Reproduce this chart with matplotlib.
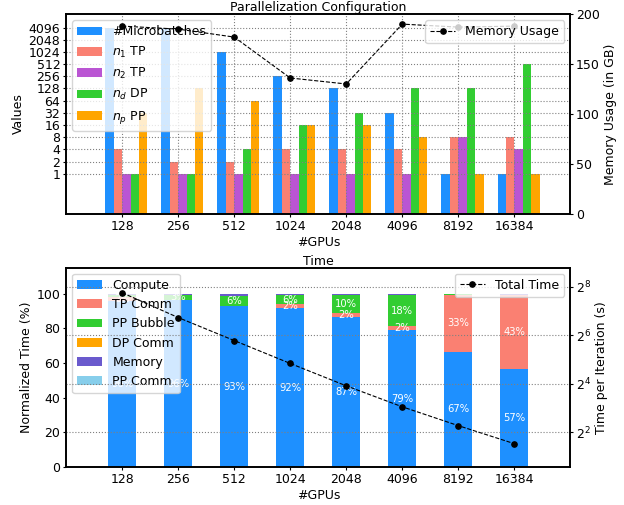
import numpy as np
import matplotlib
matplotlib.use('Agg')
import matplotlib.pyplot as plt

# GPU counts on the x axis
gpus = ['128', '256', '512', '1024', '2048', '4096', '8192', '16384']

# Parallelization configuration per GPU count
microbatches = [4096, 4096, 1024, 256, 128, 32, 1, 1]
n1_tp = [4, 2, 2, 4, 4, 4, 8, 8]
n2_tp = [1, 1, 1, 1, 1, 1, 8, 4]
nd_dp = [1, 1, 4, 16, 32, 128, 128, 512]
np_pp = [32, 128, 64, 16, 16, 8, 1, 1]
memory_gb = [188, 185, 177, 136, 130, 190, 187, 188]

# Time breakdown (percent of iteration time)
compute = [95.8, 96.2, 92.6, 91.6, 86.6, 78.9, 66.6, 56.6]
tp_comm = [2.4, 0.3, 0.0, 2.2, 2.4, 2.2, 32.6, 42.8]
pp_bubble = [0.9, 2.7, 6.0, 5.6, 10.2, 18.1, 0.3, 0.0]
dp_comm = [0.0, 0.0, 0.0, 0.0, 0.0, 0.0, 0.0, 0.0]
memory_pct = [0.6, 0.6, 1.2, 0.4, 0.6, 0.6, 0.3, 0.4]
pp_comm = [0.3, 0.2, 0.2, 0.2, 0.2, 0.2, 0.2, 0.2]
total_time = [215, 106, 55, 28.6, 15.1, 8.3, 4.85, 2.9]

plt.rcParams.update({
    'font.size': 9,
    'axes.titlesize': 9,
    'axes.linewidth': 1.2,
    'axes.labelpad': 2.5,
    'axes.titlepad': 2.0,
    'xtick.major.size': 2.2,
    'ytick.major.size': 2.2,
    'xtick.major.pad': 2.0,
    'ytick.major.pad': 2.0,
})

x = np.arange(1, len(gpus) + 1)

fig, (ax1, ax3) = plt.subplots(2, 1, figsize=(6.24, 5.05), dpi=100)
fig.subplots_adjust(left=0.106, right=0.914, top=0.972, bottom=0.075, hspace=0.27)

# --- Parallelization configuration ---
config = [
    (microbatches, '#Microbatches', '#1E90FF'),
    (n1_tp, '$n_1$ TP', '#FA8072'),
    (n2_tp, '$n_2$ TP', '#BA55D3'),
    (nd_dp, '$n_d$ DP', '#32CD32'),
    (np_pp, '$n_p$ PP', '#FFA500'),
]
w = 0.15
for i, (vals, label, color) in enumerate(config):
    ax1.bar(x + (i - 2) * w, vals, w, align='edge', label=label, color=color)

ax1.set_yscale('log', base=2)
ax1.set_ylim(2 ** -3.27, 2 ** 13.1)
yt = [2 ** i for i in range(13)]
ax1.set_yticks(yt)
ax1.set_yticklabels([str(v) for v in yt])
ax1.yaxis.set_minor_locator(matplotlib.ticker.NullLocator())
ax1.set_xlim(0, 9)
ax1.set_xticks(x)
ax1.set_xticklabels(gpus)
ax1.set_xlabel('#GPUs')
ax1.set_ylabel('Values')
ax1.set_title('Parallelization Configuration')
ax1.grid(True, linestyle=':', color='gray')
ax1.legend(loc='upper left')

ax2 = ax1.twinx()
ax2.plot(x, memory_gb, 'k--', marker='o', markersize=3.8, lw=0.8, label='Memory Usage')
ax2.set_ylim(0, 200)
ax2.set_ylabel('Memory Usage (in GB)')
ax2.legend(loc='upper right')

# --- Time breakdown ---
parts = [
    (compute, 'Compute', '#1E90FF'),
    (tp_comm, 'TP Comm', '#FA8072'),
    (pp_bubble, 'PP Bubble', '#32CD32'),
    (dp_comm, 'DP Comm', '#FFA500'),
    (memory_pct, 'Memory', '#6A5ACD'),
    (pp_comm, 'PP Comm', '#87CEEB'),
]
bottom = np.zeros(len(gpus))
for vals, label, color in parts:
    vals = np.array(vals)
    ax3.bar(x, vals, 0.5, bottom=bottom, label=label, color=color)
    for xi, b, v in zip(x, bottom, vals):
        if v >= 1.5:
            ax3.text(xi, b + v / 2, f'{v:.0f}%', ha='center', va='center',
                     color='white', fontsize=7.2)
    bottom += vals

ax3.set_ylim(0, 115)
ax3.set_xlim(0, 9)
ax3.set_xticks(x)
ax3.set_xticklabels(gpus)
ax3.set_xlabel('#GPUs')
ax3.set_ylabel('Normalized Time (%)')
ax3.set_title('Time')
ax3.legend(loc='upper left')

ax4 = ax3.twinx()
ax4.plot(x, total_time, 'k--', marker='o', markersize=3.8, lw=0.8, label='Total Time')
ax4.set_yscale('log', base=2)
ax4.set_ylim(2 ** 0.57, 2 ** 8.785)
ax4.set_yticks([4, 16, 64, 256])
ax4.set_yticklabels(['$2^{2}$', '$2^{4}$', '$2^{6}$', '$2^{8}$'])
ax4.yaxis.set_minor_locator(matplotlib.ticker.NullLocator())
ax4.set_ylabel('Time per Iteration (s)')
ax4.grid(True, axis='y', linestyle=':', color='gray')
ax4.legend(loc='upper right')

fig.savefig('out.png', dpi=100)
